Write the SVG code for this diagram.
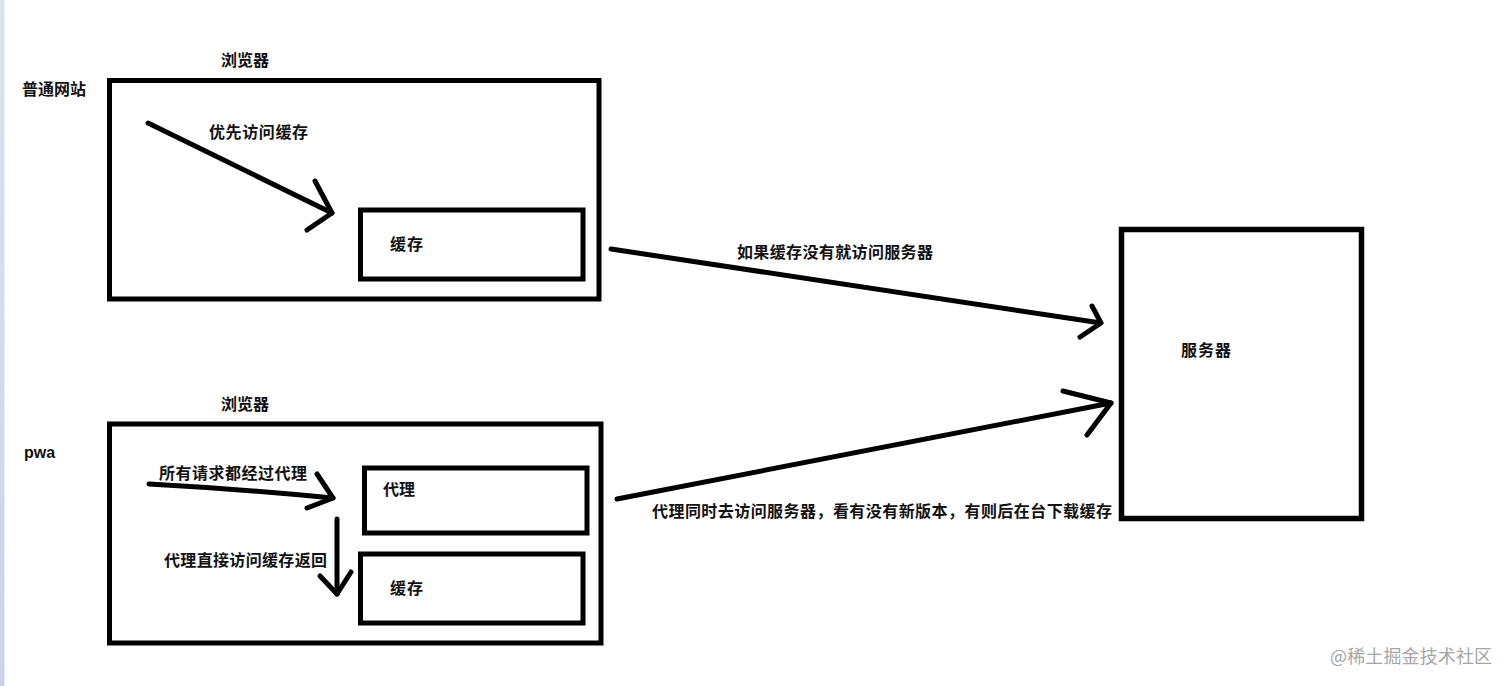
<svg xmlns="http://www.w3.org/2000/svg" width="1512" height="686" viewBox="0 0 1512 686">
<defs>
<linearGradient id="edge" x1="0" y1="0" x2="0" y2="1">
<stop offset="0" stop-color="#dbe3ee"/>
<stop offset="1" stop-color="#c9d5e4"/>
</linearGradient>
<style>
.box{fill:none;stroke:#000;stroke-width:5}
.srv{fill:none;stroke:#000;stroke-width:5.5}
.ln{fill:none;stroke:#000;stroke-width:5;stroke-linecap:round;stroke-linejoin:round}
.t{font-family:"Noto Sans CJK SC","Noto Sans",sans-serif;font-weight:700;font-size:16px;fill:#111}
.wm{font-family:"Noto Sans CJK SC","Noto Sans",sans-serif;font-size:18px;fill:#a6a6a6}
</style>
</defs>
<rect width="1512" height="686" fill="#fff"/>
<rect x="0" y="0" width="4.5" height="686" fill="url(#edge)"/>

<g id="label-normal"><text class="t" x="22" y="95" textLength="64">普通网站</text></g>
<g id="label-pwa"><text class="t" x="24" y="458" style="font-family:'Liberation Sans',Arial,sans-serif">pwa</text></g>

<g id="browser1">
<rect class="box" x="109.5" y="80.5" width="489.5" height="218.5"/>
<text class="t" x="221" y="66" textLength="48">浏览器</text>
</g>
<g id="cache1">
<rect class="box" x="360.5" y="210" width="222.5" height="69"/>
<text class="t" x="390" y="250" textLength="33">缓存</text>
</g>

<g id="browser2">
<rect class="box" x="109.5" y="424" width="491.5" height="219"/>
<text class="t" x="221" y="410" textLength="48">浏览器</text>
</g>
<g id="proxy2">
<rect class="box" x="364.5" y="468" width="222.5" height="65"/>
<text class="t" x="383" y="495" textLength="32">代理</text>
</g>
<g id="cache2">
<rect class="box" x="360.5" y="554" width="222.5" height="69"/>
<text class="t" x="390" y="594" textLength="33">缓存</text>
</g>

<g id="server">
<rect class="srv" x="1121.5" y="229.5" width="240" height="289"/>
<text class="t" x="1181" y="356" textLength="50">服务器</text>
</g>

<g id="connectors">
<path class="ln" d="M148 123 L332 213"/>
<path class="ln" d="M315 181 L332 213 L307 230"/>
<text class="t" x="209" y="138" textLength="99">优先访问缓存</text>

<path class="ln" d="M149 484 Q240 489 333 498"/>
<path class="ln" d="M317 474 L333 498 L307 508"/>
<text class="t" x="159" y="479" textLength="148">所有请求都经过代理</text>

<path class="ln" d="M337 519 L337 594"/>
<path class="ln" d="M320 576 L337 594 L351 572"/>
<text class="t" x="164" y="566" textLength="163">代理直接访问缓存返回</text>

<path class="ln" d="M611 249 L1101 323"/>
<path class="ln" d="M1092 306 L1101 323 L1080 337"/>
<text class="t" x="737" y="258" textLength="196">如果缓存没有就访问服务器</text>

<path class="ln" d="M617 499 L1111 403"/>
<path class="ln" d="M1063 391 L1111 403 L1087 435"/>
<text class="t" x="652" y="517" textLength="460">代理同时去访问服务器，看有没有新版本，有则后在台下载缓存</text>
</g>

<text class="wm" x="1330" y="663" textLength="162">@稀土掘金技术社区</text>
</svg>
